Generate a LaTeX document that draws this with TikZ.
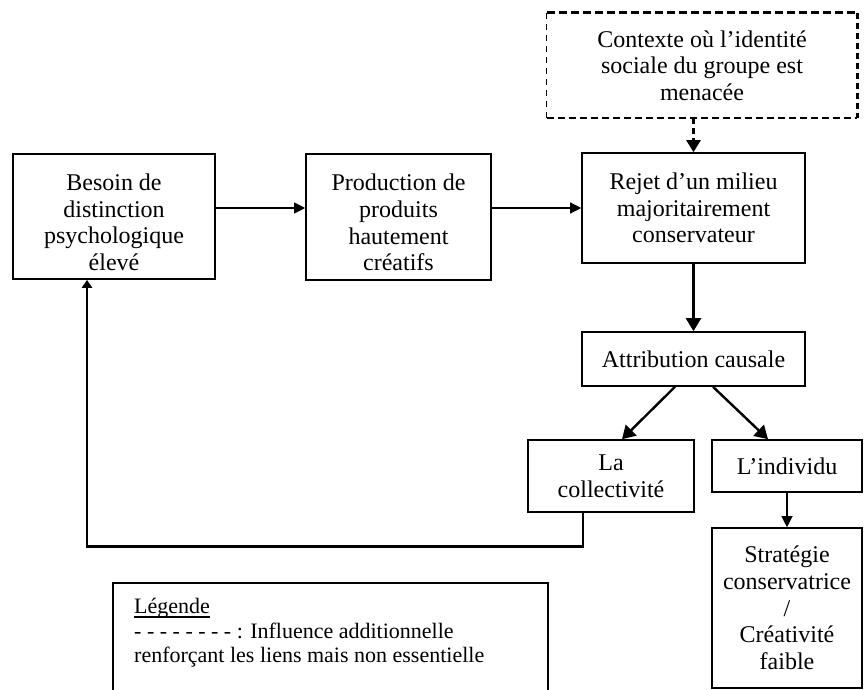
\documentclass[tikz,border=0pt]{standalone}
\usepackage{fontspec}
\setmainfont{Liberation Serif}
\usetikzlibrary{arrows.meta,calc}
\begin{document}
\begin{tikzpicture}[x=1pt,y=-1pt,
  box/.style={draw, line width=1.6pt, inner sep=0pt, align=center, font=\fontsize{24}{26.7}\selectfont},
  plainbox/.style={inner sep=0pt, align=center, font=\fontsize{24}{26.7}\selectfont},
  thinarrow/.style={line width=1.1pt, -{Triangle[length=11pt,width=11pt]}},
  thickarrow/.style={line width=2.4pt, -{Triangle[length=13pt,width=15pt]}},
  legtext/.style={anchor=base west, inner sep=0pt, font=\fontsize{22}{24}\selectfont}]
\useasboundingbox (0,0) rectangle (865,690);
\fill[white] (0,0) rectangle (865,690);

% boxes
\node[plainbox, minimum width=310pt, minimum height=105pt] (ctx) at (702,65.5)
  {Contexte où l’identité\\sociale du groupe est\\menacée};
\node[box, minimum width=202pt, minimum height=125pt] (besoin) at (114,216.5)
  {\rule{0pt}{28pt}Besoin de\\distinction\\psychologique\\élevé};
\node[box, minimum width=185pt, minimum height=126pt] (prod) at (398.5,217)
  {\rule{0pt}{28pt}Production de\\produits\\hautement\\créatifs};
\node[box, minimum width=223pt, minimum height=110pt] (rejet) at (693.5,208)
  {Rejet d’un milieu\\majoritairement\\conservateur};
\node[box, minimum width=223pt, minimum height=54pt] (attr) at (693.5,359)
  {Attribution causale};
\node[box, minimum width=166pt, minimum height=72pt] (coll) at (611,476)
  {La\\collectivité};
\node[box, minimum width=150pt, minimum height=52pt] (indiv) at (787,466)
  {L’individu};
\node[box, minimum width=150pt, minimum height=160pt] (strat) at (787,608)
  {Stratégie\\conservatrice\\/\\Créativité\\faible};

% dashed context box
\draw[line width=2.6pt, dash pattern=on 8pt off 4pt] (ctx.north west) -- (ctx.north east);
\draw[line width=3pt, dash pattern=on 6pt off 4pt] (ctx.north east) -- (ctx.south east);
\draw[line width=1pt, dash pattern=on 6pt off 5pt] (ctx.north west) -- (ctx.south west);
\draw[line width=1.6pt, dash pattern=on 7pt off 4pt] (ctx.south west) -- (ctx.south east);

% connectors
\draw[thinarrow] (besoin.east |- rejet.west) -- (prod.west |- rejet.west);
\draw[thinarrow] (prod.east |- rejet.west) -- (rejet.west);
\draw[line width=2.4pt, dash pattern=on 6pt off 4pt, -{Triangle[length=12pt,width=14pt]}]
  (ctx.south -| rejet.north) -- (rejet.north);
\draw[thickarrow] (rejet.south) -- (attr.north);
\draw[thickarrow] ([xshift=-18.5pt]attr.south) -- ([xshift=11pt]coll.north);
\draw[thickarrow] ([xshift=19.5pt]attr.south) -- ([xshift=-19pt]indiv.north);
\draw[thinarrow] (indiv.south) -- (strat.north);
\draw[line width=2.8pt, -{Triangle[length=8pt,width=10pt]}]
  ([xshift=-28pt]coll.south) -- ++(0,34) -| ([xshift=-27pt]besoin.south);

% legend
\node[draw, line width=1.6pt, inner sep=0pt, minimum width=435pt, minimum height=112pt] (legend) at (330.5,639) {};
\node[legtext] (leg1) at (134,613) {Légende};
\draw[line width=1.8pt] ([yshift=-4pt]leg1.base west) -- ([yshift=-4pt]leg1.base east);
\node[legtext] (leg2) at (134,638) {- - - - - - - - : Influence additionnelle};
\node[legtext] (leg3) at (134,662) {renforçant les liens mais non essentielle};
\end{tikzpicture}
\end{document}
